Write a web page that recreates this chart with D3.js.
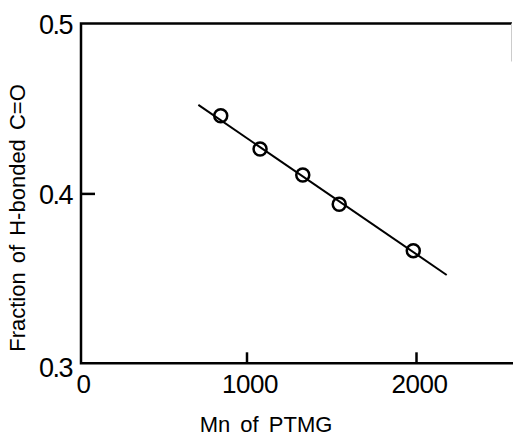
<!DOCTYPE html>
<html>
<head>
<meta charset="utf-8">
<script src="https://cdn.jsdelivr.net/npm/d3@7"></script>
<style>
  body { margin: 0; background: #fff; }
  svg { display: block; }
  text { font-family: "Liberation Sans", Arial, sans-serif; fill: #000; }
</style>
</head>
<body>
<svg width="513" height="437"></svg>
<script>
// measured points: Mn of PTMG vs fraction of H-bonded C=O
var mn = [848, 1080, 1332, 1547, 1984];
var frac = [0.4457, 0.4261, 0.4108, 0.3936, 0.3663];
// fitted line, drawn end to end
var fitMn = [716, 2181];
var fitFrac = [0.4521, 0.3520];
var xTicks = [0, 1000, 2000];
var yTicks = [0.3, 0.4, 0.5];

var svg = d3.select('svg');

var plotL = 81, plotT = 23.5, plotB = 363.3, plotR = 512;

var x = d3.scaleLinear().domain([0, 2000]).range([77, 416]);
var y = d3.scaleLinear().domain([0.3, 0.5]).range([plotB, plotT]);

// frame
svg.append('path')
    .attr('d', 'M' + plotR + ',' + plotT + 'H' + plotL + 'V' + plotB + 'H513')
    .attr('fill', 'none')
    .attr('stroke', '#000')
    .attr('stroke-width', 2.5);
svg.append('line')
    .attr('x1', plotR - 0.5).attr('x2', plotR - 0.5)
    .attr('y1', plotT).attr('y2', plotT + 38)
    .attr('stroke', '#ccc')
    .attr('stroke-width', 1);

// y axis
var yAxis = svg.append('g')
    .attr('transform', 'translate(' + plotL + ',0)')
    .call(d3.axisLeft(y).tickValues(yTicks).tickSize(-14).tickPadding(9)
        .tickFormat(d3.format('.1f')));
yAxis.select('.domain').remove();
yAxis.selectAll('.tick line')
    .attr('stroke', '#000')
    .attr('stroke-width', 2.5)
    .attr('display', function(d){ return d == 0.4 ? null : 'none'; });
yAxis.selectAll('.tick text')
    .attr('font-size', 27)
    .attr('letter-spacing', -1.5)
    .attr('dy', function(d){ return d == 0.3 ? '0.5em' : '0.36em'; });

// x axis
var xAxis = svg.append('g')
    .attr('transform', 'translate(0,' + plotB + ')')
    .call(d3.axisBottom(x).tickValues(xTicks).tickSize(-11).tickPadding(11)
        .tickFormat(d3.format('d')));
xAxis.select('.domain').remove();
xAxis.selectAll('.tick line')
    .attr('stroke', '#000')
    .attr('stroke-width', 2.5)
    .attr('display', function(d){ return d == 0 ? 'none' : null; });
xAxis.selectAll('.tick text')
    .attr('font-size', 26)
    .attr('letter-spacing', -0.5)
    .attr('dx', function(d){ return d == 0 ? 6 : 3; });

// axis titles
svg.append('text')
    .attr('x', 266)
    .attr('y', 432)
    .attr('text-anchor', 'middle')
    .attr('font-size', 22)
    .attr('word-spacing', 4)
    .text('Mn of PTMG');

svg.append('text')
    .attr('transform', 'translate(25,218) rotate(-90)')
    .attr('text-anchor', 'middle')
    .attr('font-size', 22)
    .attr('word-spacing', 3)
    .text('Fraction of H-bonded C=O');

// fit line
var fit = fitMn.map(function(d, i){ return [d, fitFrac[i]]; });
svg.append('path')
    .datum(fit)
    .attr('d', d3.line().x(function(d){ return x(d[0]); }).y(function(d){ return y(d[1]); }))
    .attr('fill', 'none')
    .attr('stroke', '#000')
    .attr('stroke-width', 2);

// data points
var pts = mn.map(function(d, i){ return {mn: d, f: frac[i]}; });
svg.selectAll('circle.pt')
    .data(pts)
    .enter()
    .append('circle')
    .attr('class', 'pt')
    .attr('cx', function(d){ return x(d.mn); })
    .attr('cy', function(d){ return y(d.f); })
    .attr('r', 6.5)
    .attr('fill', 'none')
    .attr('stroke', '#000')
    .attr('stroke-width', 2.5);
</script>
</body>
</html>
